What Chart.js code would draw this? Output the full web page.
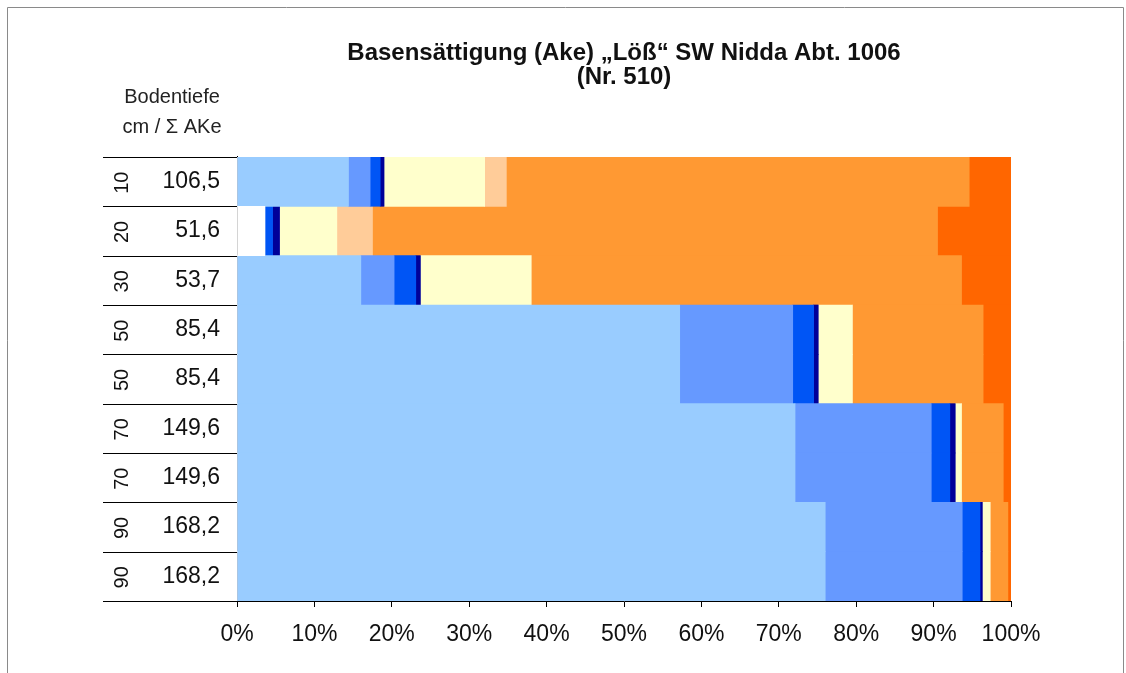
<!DOCTYPE html>
<html>
<head>
<meta charset="utf-8">
<script src="https://cdn.jsdelivr.net/npm/chart.js@4.4.1/dist/chart.umd.min.js"></script>
<style>
html, body { margin: 0; padding: 0; background: #fff; }
</style>
</head>
<body>
<canvas id="grafico" width="1126" height="673"></canvas>
<script>
// Bodentiefe (cm) und Summe AKe je Zeile
const tiefen = ['10', '20', '30', '50', '50', '70', '70', '90', '90']
const summen = ['106,5', '51,6', '53,7', '85,4', '85,4', '149,6', '149,6', '168,2', '168,2']

// Anteile in %
const weiss      = [0, 3.6, 0, 0, 0, 0, 0, 0, 0]
const hellblau   = [14.4, 0, 16.0, 57.2, 57.2, 72.1, 72.1, 76.0, 76.0]
const mittelblau = [2.8, 0, 4.3, 14.6, 14.6, 17.6, 17.6, 17.7, 17.7]
const blau       = [1.3, 1.0, 2.8, 2.7, 2.7, 2.4, 2.4, 2.3, 2.3]
const dunkelblau = [0.5, 0.9, 0.6, 0.6, 0.6, 0.7, 0.7, 0.3, 0.3]
const hellgelb   = [13.0, 7.4, 14.3, 4.4, 4.4, 0.8, 0.8, 1.0, 1.0]
const pfirsich   = [2.8, 4.6, 0, 0, 0, 0, 0, 0, 0]
const orange     = [59.8, 73.0, 55.6, 16.9, 16.9, 5.4, 5.4, 2.3, 2.3]
const dunkelor   = [5.4, 9.5, 6.4, 3.6, 3.6, 1.0, 1.0, 0.4, 0.4]

const xTicks = [0, 10, 20, 30, 40, 50, 60, 70, 80, 90, 100]

const FONT = 'Liberation Sans, Arial, sans-serif'

function serie(label, data, farbe) {
    return { label, data, backgroundColor: farbe, borderWidth: 0 }
}

const data = {
    labels: summen,
    datasets: [
        serie('weiß', weiss, '#ffffff'),
        serie('hellblau', hellblau, '#99ccff'),
        serie('mittelblau', mittelblau, '#6699ff'),
        serie('blau', blau, '#0055f5'),
        serie('dunkelblau', dunkelblau, '#000099'),
        serie('hellgelb', hellgelb, '#ffffcc'),
        serie('pfirsich', pfirsich, '#ffcc99'),
        serie('orange', orange, '#ff9933'),
        serie('dunkelorange', dunkelor, '#ff6600')
    ]
}

// Tabellenlinien links, Tiefen (gedreht), Kopftext und Rahmen
const tabelle = {
    id: 'tabelle',
    beforeDraw(chart) {
        const ctx = chart.ctx
        ctx.save()
        ctx.fillStyle = '#fff'
        ctx.fillRect(0, 0, chart.width, chart.height)
        ctx.strokeStyle = '#8a8a8a'
        ctx.lineWidth = 1
        ctx.beginPath()
        ctx.moveTo(7.5, chart.height)
        ctx.lineTo(7.5, 7.5)
        ctx.lineTo(1123.5, 7.5)
        ctx.lineTo(1123.5, chart.height)
        ctx.stroke()
        ctx.restore()
    },
    afterDraw(chart) {
        const ctx = chart.ctx
        const y = chart.scales.y
        const links = chart.chartArea.left
        ctx.save()
        ctx.strokeStyle = '#000'
        ctx.lineWidth = 1
        ctx.beginPath()
        for (let i = 0; i <= tiefen.length; i++) {
            const py = Math.round(y.getPixelForValue(i - 0.5)) + 0.5
            ctx.moveTo(103, py)
            ctx.lineTo(links, py)
        }
        ctx.stroke()

        ctx.fillStyle = '#111'
        ctx.font = '20px ' + FONT
        ctx.textAlign = 'center'
        ctx.textBaseline = 'middle'
        tiefen.forEach((t, i) => {
            ctx.save()
            ctx.translate(121, y.getPixelForValue(i) + 1)
            ctx.rotate(-Math.PI / 2)
            ctx.fillText(t, 0, 1)
            ctx.restore()
        })

        ctx.fillStyle = '#222'
        ctx.font = '20px ' + FONT
        ctx.fillText('Bodentiefe', 172, 97)
        ctx.fillText('cm / Σ AKe', 172, 127)
        ctx.restore()
    }
}

const config = {
    type: 'bar',
    data,
    options: {
        indexAxis: 'y',
        responsive: false,
        animation: false,
        layout: { padding: { left: 103, right: 115, top: 0, bottom: 22 } },
        datasets: { bar: { barPercentage: 1, categoryPercentage: 1 } },
        scales: {
            x: {
                stacked: true,
                min: 0,
                max: 100,
                afterBuildTicks(scale) { scale.ticks = xTicks.map(v => ({ value: v })) },
                afterFit(scale) { scale.height = 50 },
                grid: { drawOnChartArea: false, drawTicks: true, tickLength: 6, color: '#000' },
                border: { display: true, color: '#000', width: 1 },
                ticks: {
                    callback: v => v + '%',
                    color: '#111',
                    padding: 14,
                    maxRotation: 0,
                    font: { family: FONT, size: 23 }
                }
            },
            y: {
                stacked: true,
                afterFit(scale) { scale.width = 134 },
                grid: { display: true, drawOnChartArea: false, drawTicks: false },
                border: { display: true, color: '#000', width: 1 },
                ticks: {
                    color: '#111',
                    padding: 17,
                    font: { family: FONT, size: 23 }
                }
            }
        },
        plugins: {
            legend: { display: false },
            tooltip: { enabled: false },
            title: {
                display: true,
                fullSize: false,
                text: ['Basensättigung (Ake) „Löß“ SW Nidda Abt. 1006', '(Nr. 510)'],
                color: '#111',
                font: { family: FONT, size: 24, weight: 'bold', lineHeight: 1.02 },
                padding: { top: 41, bottom: 67 }
            }
        }
    },
    plugins: [tabelle]
}

const graph = new Chart(document.getElementById('grafico'), config)
</script>
</body>
</html>
